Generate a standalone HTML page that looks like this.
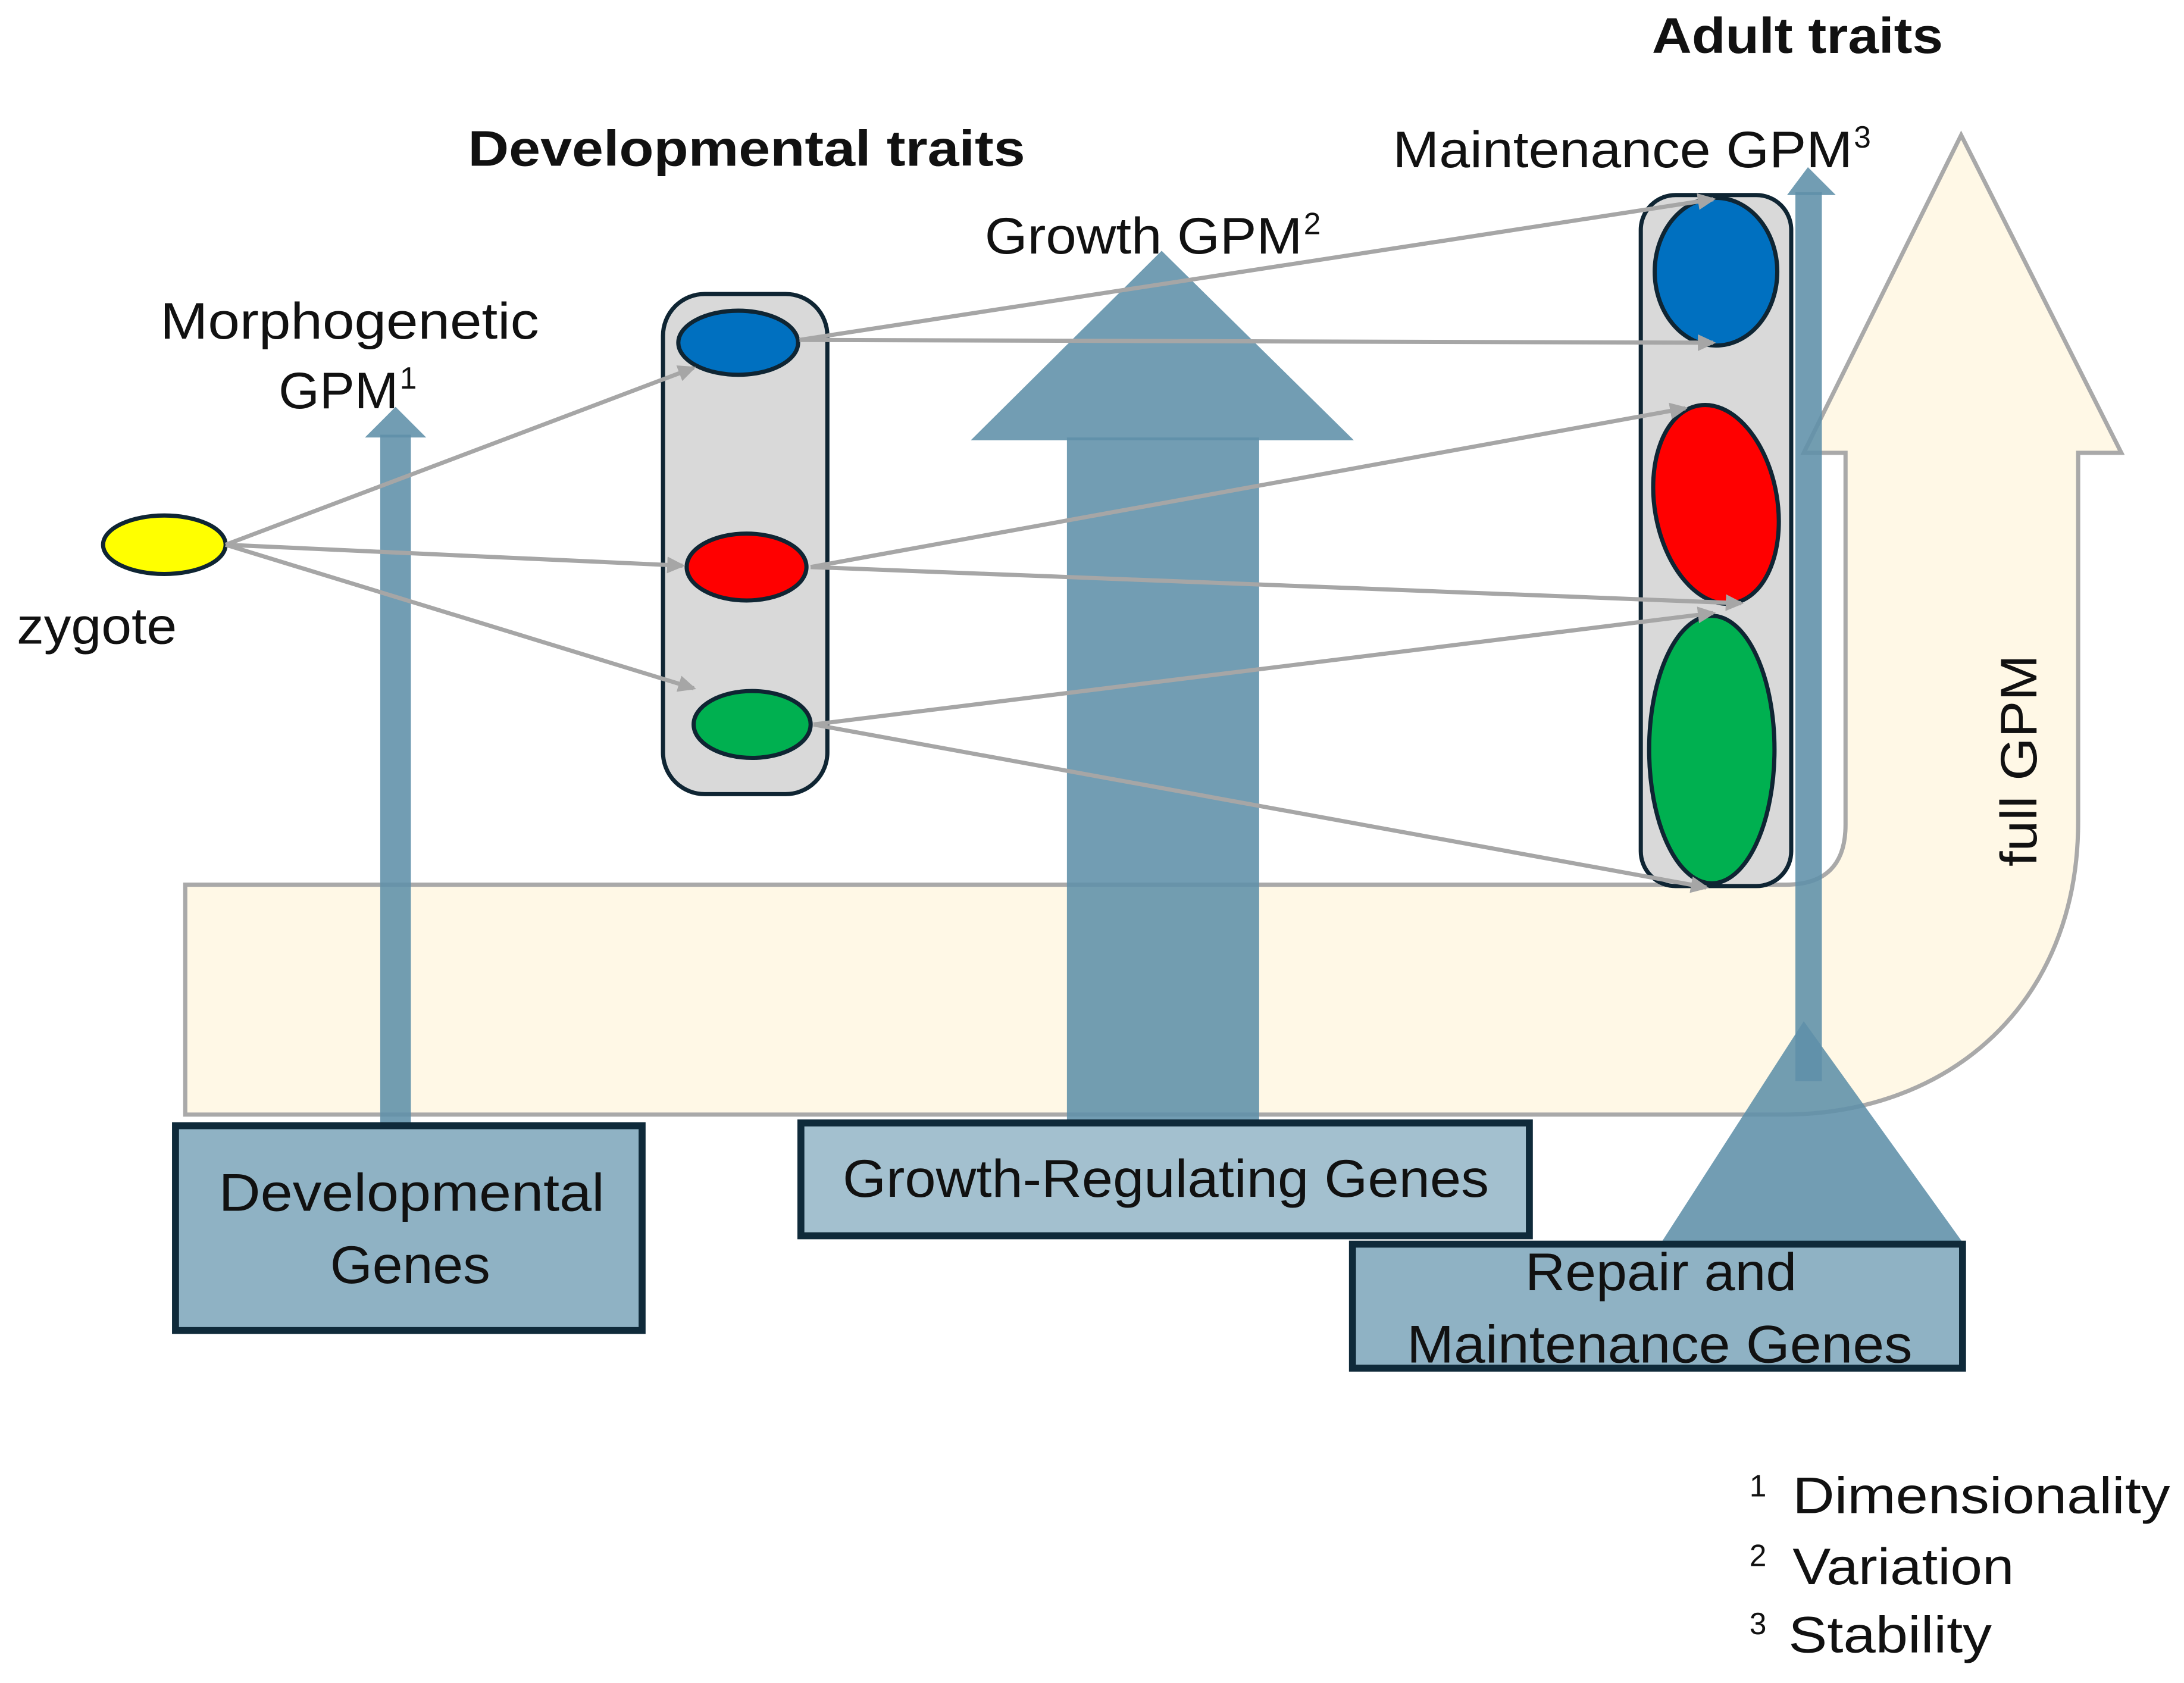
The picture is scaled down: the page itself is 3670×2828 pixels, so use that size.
<!DOCTYPE html>
<html><head><meta charset="utf-8"><style>
html,body{margin:0;padding:0;background:#fff;}
svg{display:block;}
text{font-family:"Liberation Sans",sans-serif;fill:#111;}
</style></head><body>
<svg width="3670" height="2828" viewBox="0 0 1568 1208" preserveAspectRatio="none" xmlns="http://www.w3.org/2000/svg">
<defs>
<marker id="ah" markerWidth="13" markerHeight="12" refX="11" refY="6" orient="auto" markerUnits="userSpaceOnUse">
<path d="M0,0 L13,6 L0,12 Z" fill="#a6a6a6"/></marker>
</defs>
<path d="M133,635 L1282,635 Q1325,635 1325,592 L1325,325 L1295,325 L1408,97 L1523,325 L1492,325 L1492,590 C1492,720 1400,800 1280,800 L133,800 Z" fill="#fff8e6" stroke="#a9a9a9" stroke-width="3"/>
<text x="1462" y="546" font-size="37" transform="rotate(-90 1462 546)" text-anchor="middle" textLength="152" lengthAdjust="spacingAndGlyphs">full GPM</text>

<g fill="#5f90a8" fill-opacity="0.88">
<rect x="273" y="312" width="22" height="494"/>
<polygon points="262,314 284,292 306,314"/>
<rect x="766" y="314" width="138" height="492"/>
<polygon points="697,316 834,180 972,316"/>
<rect x="1289" y="138" width="19" height="638"/>
<polygon points="1283,140 1298,120 1318,140"/>
<polygon points="1192,893 1295,733 1410,893"/>
</g>

<rect x="476" y="211" width="118" height="359" rx="30" fill="#d9d9d9" stroke="#0f2533" stroke-width="3"/>
<ellipse cx="530" cy="246" rx="43" ry="23" fill="#0070c0" stroke="#0f2533" stroke-width="3"/>
<ellipse cx="536" cy="407" rx="43" ry="24" fill="#ff0000" stroke="#0f2533" stroke-width="3"/>
<ellipse cx="540" cy="520" rx="42" ry="24" fill="#00b050" stroke="#0f2533" stroke-width="3"/>

<rect x="1178" y="140" width="108" height="496" rx="25" fill="#d9d9d9" stroke="#0f2533" stroke-width="3"/>
<ellipse cx="1232" cy="195" rx="44" ry="53" fill="#0070c0" stroke="#0f2533" stroke-width="3"/>
<ellipse cx="1232" cy="362" rx="44" ry="72" transform="rotate(-10 1232 362)" fill="#ff0000" stroke="#0f2533" stroke-width="3"/>
<ellipse cx="1229" cy="538" rx="45" ry="96" fill="#00b050" stroke="#0f2533" stroke-width="3"/>

<ellipse cx="118" cy="391" rx="44" ry="21" fill="#ffff00" stroke="#0f2533" stroke-width="3"/>

<g stroke="#a6a6a6" stroke-width="3" fill="none" marker-end="url(#ah)">
<line x1="162" y1="391" x2="498" y2="264"/>
<line x1="162" y1="391" x2="490" y2="406"/>
<line x1="162" y1="391" x2="498" y2="494"/>
<line x1="574" y1="244" x2="1230" y2="143"/>
<line x1="574" y1="244" x2="1230" y2="246"/>
<line x1="582" y1="407" x2="1210" y2="293"/>
<line x1="582" y1="407" x2="1250" y2="433"/>
<line x1="584" y1="520" x2="1230" y2="440"/>
<line x1="584" y1="520" x2="1225" y2="637"/>
</g>

<rect x="126" y="808" width="335" height="147" fill="#8fb2c4" stroke="#0f2a3a" stroke-width="5"/>
<text x="157" y="869" font-size="38" textLength="277" lengthAdjust="spacingAndGlyphs">Developmental</text>
<text x="237" y="921" font-size="38" textLength="115" lengthAdjust="spacingAndGlyphs">Genes</text>
<rect x="575" y="806" width="523" height="81" fill="#a3c0cf" stroke="#0f2a3a" stroke-width="5"/>
<text x="605" y="859" font-size="38" textLength="464" lengthAdjust="spacingAndGlyphs">Growth-Regulating Genes</text>
<rect x="971" y="893" width="438" height="89" fill="#8fb2c4" stroke="#0f2a3a" stroke-width="5"/>
<text x="1095" y="926" font-size="38" textLength="195" lengthAdjust="spacingAndGlyphs">Repair and</text>
<text x="1010" y="978" font-size="38" textLength="363" lengthAdjust="spacingAndGlyphs">Maintenance Genes</text>

<text x="1186" y="38" font-size="36" font-weight="bold" textLength="209" lengthAdjust="spacingAndGlyphs">Adult traits</text>
<text x="336" y="119" font-size="36" font-weight="bold" textLength="400" lengthAdjust="spacingAndGlyphs">Developmental traits</text>
<text x="1000" y="120" font-size="37" textLength="330" lengthAdjust="spacingAndGlyphs">Maintenance GPM</text>
<text x="1331" y="106" font-size="22">3</text>
<text x="707" y="182" font-size="37" textLength="228" lengthAdjust="spacingAndGlyphs">Growth GPM</text>
<text x="936" y="168" font-size="22">2</text>
<text x="115" y="243" font-size="37" textLength="272" lengthAdjust="spacingAndGlyphs">Morphogenetic</text>
<text x="200" y="293" font-size="37" textLength="86" lengthAdjust="spacingAndGlyphs">GPM</text>
<text x="287" y="279" font-size="22">1</text>
<text x="12" y="462" font-size="37" textLength="115" lengthAdjust="spacingAndGlyphs">zygote</text>

<text x="1256" y="1074" font-size="22">1</text>
<text x="1287" y="1086" font-size="37" textLength="271" lengthAdjust="spacingAndGlyphs">Dimensionality</text>
<text x="1256" y="1124" font-size="22">2</text>
<text x="1287" y="1137" font-size="37" textLength="159" lengthAdjust="spacingAndGlyphs">Variation</text>
<text x="1256" y="1173" font-size="22">3</text>
<text x="1284" y="1186" font-size="37" textLength="146" lengthAdjust="spacingAndGlyphs">Stability</text>
</svg>
</body></html>
